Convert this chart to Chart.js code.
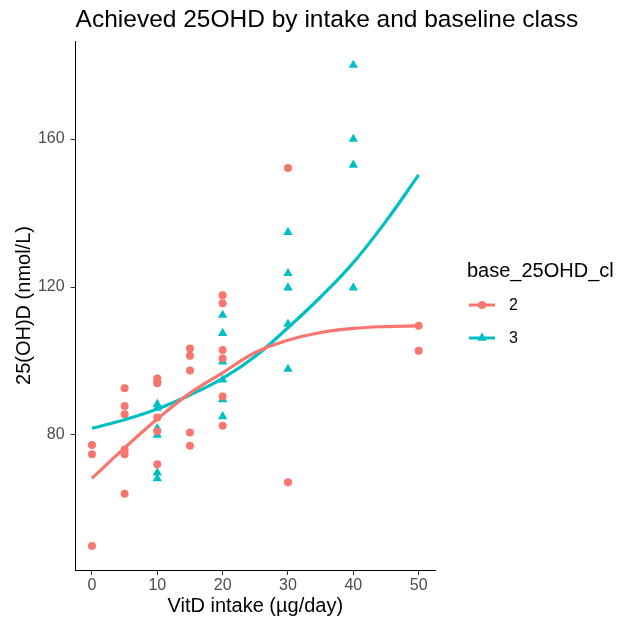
<!DOCTYPE html>
<html>
<head>
<meta charset="utf-8">
<script src="https://cdn.jsdelivr.net/npm/chart.js@4"></script>
<style>
  html, body { margin: 0; padding: 0; background: #fff; }
  #wrap { position: relative; width: 617px; height: 626px; }
</style>
</head>
<body>
<div id="wrap"><canvas id="chart"></canvas></div>
<script>
const RED = "#F8766D";
const TEAL = "#00BFC4";
const FONT = "'Liberation Sans', Arial, sans-serif";

// observed 25OHD, baseline class 2
const dose2 = [0, 0, 0, 5, 5, 5, 5, 5, 5, 10, 10, 10, 10, 10, 15, 15, 15, 15, 15,
  20, 20, 20, 20, 20, 20, 30, 30, 50, 50];
const ohd2 = [77.3, 74.8, 50, 92.6, 87.8, 85.6, 76.1, 74.8, 64.1, 95.3, 94, 84.7, 81, 72.1,
  103.4, 101.4, 97.4, 80.7, 77.1, 117.8, 115.6, 103, 100.7, 90.4, 82.5, 152.2, 67.2, 109.5, 102.8];

// observed 25OHD, baseline class 3
const dose3 = [10, 10, 10, 10, 10, 10, 10, 20, 20, 20, 20, 20, 20, 30, 30, 30, 30, 30, 40, 40, 40, 40];
const ohd3 = [95, 88.3, 87.3, 81.8, 80, 69.8, 68.2, 112.4, 107.5, 99.8, 94.9, 89.6, 85,
  134.8, 123.7, 119.8, 110, 97.8, 180, 160, 153, 119.8];

// fitted curves
const fitDose = [0, 5, 10, 15, 20, 25, 30, 35, 40, 45, 50];
const fit2 = [68.3, 76.5, 84.3, 91.3, 96.8, 102.3, 105.6, 107.7, 108.8, 109.3, 109.5];
const fit3 = [81.8, 84.1, 87, 90.8, 95.3, 101.3, 109, 117.3, 126.6, 137.8, 150.3];

const xTicks = [0, 10, 20, 30, 40, 50];
const yTicks = [80, 120, 160];
const classes = ["2", "3"];
const chartTitle = "Achieved 25OHD by intake and baseline class";
const legendTitle = "base_25OHD_cl";

const pts = (xs, ys) => xs.map((x, i) => ({ x, y: ys[i] }));

Chart.defaults.font.family = FONT;

// title flush with the panel's left edge, plus the key on the right
const decor = {
  id: "decor",
  afterDraw(chart) {
    const ctx = chart.ctx;
    const area = chart.chartArea;
    ctx.save();
    ctx.fillStyle = "#000";
    ctx.textBaseline = "alphabetic";
    ctx.font = "24.5px " + FONT;
    ctx.fillText(chartTitle, area.left, 27);

    const x0 = area.right + 34;
    ctx.font = "20px " + FONT;
    ctx.fillText(legendTitle, x0 - 2, 277);
    const keys = [
      { c: RED, s: "circle", r: 4 },
      { c: TEAL, s: "triangle", r: 5.4 },
    ];
    classes.forEach((lab, i) => {
      const y = 305 + i * 33;
      ctx.strokeStyle = keys[i].c;
      ctx.lineWidth = 3;
      ctx.beginPath();
      ctx.moveTo(x0, y);
      ctx.lineTo(x0 + 26, y);
      ctx.stroke();
      ctx.fillStyle = keys[i].c;
      Chart.helpers.drawPoint(ctx, { pointStyle: keys[i].s, radius: keys[i].r, borderWidth: 0 }, x0 + 13, y);
      ctx.fillStyle = "#000";
      ctx.font = "16px " + FONT;
      ctx.textBaseline = "middle";
      ctx.fillText(lab, x0 + 40, y + 1);
      ctx.textBaseline = "alphabetic";
    });
    ctx.restore();
  },
};

const axisTick = { color: "#4D4D4D", font: { size: 16 } };
const axisGrid = { display: true, drawOnChartArea: false, drawTicks: true, tickLength: 5, color: "#333", lineWidth: 1 };
const axisBorder = { display: true, color: "#000", width: 1 };

new Chart(document.getElementById("chart"), {
  type: "scatter",
  data: {
    datasets: [
      {
        type: "line", label: "fit 2", data: pts(fitDose, fit2),
        borderColor: RED, borderWidth: 3.2, pointRadius: 0, tension: 0.4, fill: false,
      },
      {
        type: "line", label: "fit 3", data: pts(fitDose, fit3),
        borderColor: TEAL, borderWidth: 3.2, pointRadius: 0, tension: 0.4, fill: false,
      },
      {
        label: "2", data: pts(dose2, ohd2), pointStyle: "circle", pointRadius: 4,
        backgroundColor: RED, borderWidth: 0,
      },
      {
        label: "3", data: pts(dose3, ohd3), pointStyle: "triangle", pointRadius: 5.4,
        backgroundColor: TEAL, borderWidth: 0,
      },
    ],
  },
  options: {
    responsive: true,
    maintainAspectRatio: false,
    animation: false,
    layout: { padding: { top: 41, left: 0, right: 182, bottom: 0 } },
    plugins: {
      legend: { display: false },
      tooltip: { enabled: false },
      title: { display: false },
    },
    scales: {
      x: {
        type: "linear", min: -2.5, max: 52.5,
        afterBuildTicks: (s) => { s.ticks = xTicks.map((v) => ({ value: v })); },
        afterFit: (s) => { s.height = 56; },
        ticks: { ...axisTick, padding: 1, autoSkip: false, maxRotation: 0 },
        grid: axisGrid, border: axisBorder,
        title: { display: true, text: "VitD intake (µg/day)", color: "#000", font: { size: 20 }, padding: { top: 0, bottom: 8 } },
      },
      y: {
        type: "linear", min: 43.5, max: 186.5,
        afterBuildTicks: (s) => { s.ticks = yTicks.map((v) => ({ value: v })); },
        afterFit: (s) => { s.width = 75.6; },
        ticks: { ...axisTick, padding: 6 },
        grid: axisGrid, border: axisBorder,
        title: { display: true, text: "25(OH)D (nmol/L)", color: "#000", font: { size: 20 }, padding: { top: 12.5, bottom: 0 } },
      },
    },
  },
  plugins: [decor],
});
</script>
</body>
</html>
